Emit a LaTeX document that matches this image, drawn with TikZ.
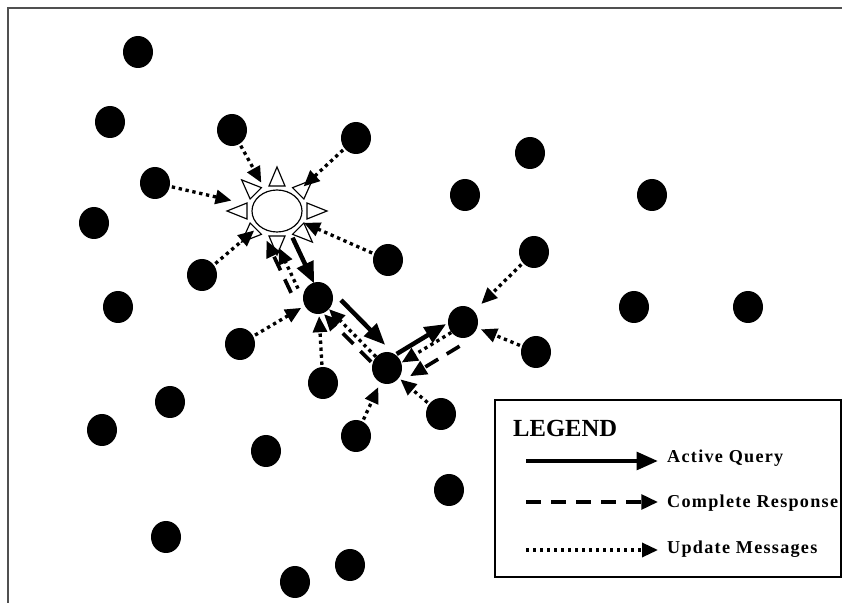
\documentclass[tikz,border=0pt]{standalone}
\usepackage{fontspec}
\setmainfont{Liberation Serif}
\newfontfamily\legendfont[LetterSpace=7]{Liberation Serif}
\usepackage{tikz}
\usetikzlibrary{shapes.geometric, arrows.meta, calc}
\definecolor{frameGray}{HTML}{505050}

\begin{document}
\begin{tikzpicture}[
    x=0.3mm, y=-0.3mm,
    peer/.style={ellipse, fill=black, minimum width=9mm, minimum height=9.6mm, inner sep=0pt},
    sun/.style={ellipse, draw=black, fill=white, line width=0.35mm, minimum width=15mm, minimum height=12.6mm, inner sep=0pt},
    ray/.style={draw=black, fill=white, line width=0.35mm, line join=miter},
    query/.style={-{Triangle[length=6.4mm, width=5.2mm]}, line width=1.35mm},
    response/.style={-{Triangle[length=5mm, width=4.4mm]}, line width=1.1mm, dash pattern=on 4.5mm off 3mm},
    update/.style={-{Triangle[length=4.8mm, width=4.2mm]}, line width=1mm, dash pattern=on 1mm off 1.1mm},
    legtext/.style={font=\legendfont\bfseries\fontsize{15.5}{18}\selectfont, anchor=base west, inner sep=0pt},
]
\useasboundingbox (0,0) rectangle (842,603);

% Outer frame (only top and left edges are visible)
\draw[frameGray, line width=0.45mm] (8,603) -- (8,8) -- (842,8);

% Source node with its rays
\node[sun] (src) at (277,211) {};
\begin{scope}[shift={(src.center)}]
\foreach \a in {0,45,...,315}
  \draw[ray] ({30*cos(\a)-8*sin(\a)},{25*sin(\a)+8*cos(\a)})
          -- ({50*cos(\a)},{44*sin(\a)})
          -- ({30*cos(\a)+8*sin(\a)},{25*sin(\a)-8*cos(\a)}) -- cycle;
\end{scope}

% Peers
\node[peer] (p1) at (138,52) {};
\node[peer] (p2) at (110,122) {};
\node[peer] (p3) at (232,130) {};
\node[peer] (p4) at (356,138) {};
\node[peer] (p5) at (155,183) {};
\node[peer] (p6) at (530,153) {};
\node[peer] (p7) at (465,195) {};
\node[peer] (p8) at (652,195) {};
\node[peer] (p9) at (94,223) {};
\node[peer] (p10) at (388,260) {};
\node[peer] (p11) at (534,252) {};
\node[peer] (p12) at (202,275) {};
\node[peer] (p13) at (118,307) {};
\node[peer] (p14) at (634,307) {};
\node[peer] (p15) at (748,307) {};
\node[peer] (p16) at (240,344) {};
\node[peer] (p17) at (536,352) {};
\node[peer] (p18) at (323,383) {};
\node[peer] (p19) at (170,402) {};
\node[peer] (p20) at (441,414) {};
\node[peer] (p21) at (102,430) {};
\node[peer] (p22) at (356,436) {};
\node[peer] (p23) at (266,451) {};
\node[peer] (p24) at (449,490) {};
\node[peer] (p25) at (166,537) {};
\node[peer] (p26) at (350,565) {};
\node[peer] (p27) at (295,582) {};

% Query path
\node[peer] (hop1) at (318,298) {};
\node[peer] (hop2) at (387,368) {};
\node[peer] (hop3) at (463,322) {};

% Updates towards the source
\draw[update, shorten <=0.6mm, shorten >=3mm] (p3) -- (src);
\draw[update, shorten <=0.6mm, shorten >=3.8mm] (p4) -- (src);
\draw[update, shorten <=0.6mm, shorten >=6.4mm] (p5) -- (src);
\draw[update, shorten <=0.6mm, shorten >=1.9mm] (p12) -- (src);
\draw[update, shorten <=0.6mm, shorten >=1.4mm] (p10) -- (src);

% Updates towards the hops
\draw[update, shorten <=0.6mm, shorten >=1.2mm] (p16) -- (hop1);
\draw[update, shorten <=0.6mm, shorten >=0.6mm] (p18) -- (hop1);
\draw[update, shorten <=0.6mm, shorten >=3mm] (p11) -- (hop3);
\draw[update, shorten <=0.6mm, shorten >=1.2mm] (p17) -- (hop3);
\draw[update, shorten <=0.6mm, shorten >=0.6mm] (p20) -- (hop2);
\draw[update, shorten <=0.6mm, shorten >=1.5mm] (p22) -- (hop2);

% Query forwarded hop by hop, with responses and updates coming back
\draw[query, shorten <=2.2mm, transform canvas={shift={(3,0)}}] (src) -- (hop1);
\draw[update, shorten <=0.3mm, shorten >=3.6mm, transform canvas={shift={(-12.7,6)}}] (hop1) -- (src);
\draw[response, transform canvas={shift={(-20,9.4)}}] (hop1) -- (src);

\draw[query, shorten <=0.6mm, shorten >=0.6mm, transform canvas={shift={(10.6,-10.5)}}] (hop1) -- (hop2);
\draw[update] (hop2) -- (hop1);
\draw[response, transform canvas={shift={(-5,5)}}] (hop2) -- (hop1);

\draw[query, transform canvas={shift={(-3.6,-6)}}] (hop2) -- (hop3);
\draw[update, transform canvas={shift={(1.5,2.5)}}] (hop3) -- (hop2);
\draw[response, transform canvas={shift={(9.8,16.2)}}] (hop3) -- (hop2);

% Legend
\draw[line width=0.45mm] (495,400) rectangle (841,577);
\node[font=\bfseries\fontsize{21}{24}\selectfont, anchor=base west, inner sep=0pt] (legtitle) at (513,437) {LEGEND};

\coordinate (lq) at (526,461);
\node[legtext] (tq) at (667,463) {Active Query};
\draw[query, shorten >=2.7mm] (lq) -- (lq -| tq.west);

\coordinate (lr) at (526,502);
\node[legtext] (tr) at (667,508) {Complete Response};
\draw[response, shorten >=2.7mm] (lr) -- (lr -| tr.west);

\coordinate (lu) at (526,550);
\node[legtext] (tu) at (667,554) {Update Messages};
\draw[update, shorten >=2.7mm] (lu) -- (lu -| tu.west);
\end{tikzpicture}
\end{document}
